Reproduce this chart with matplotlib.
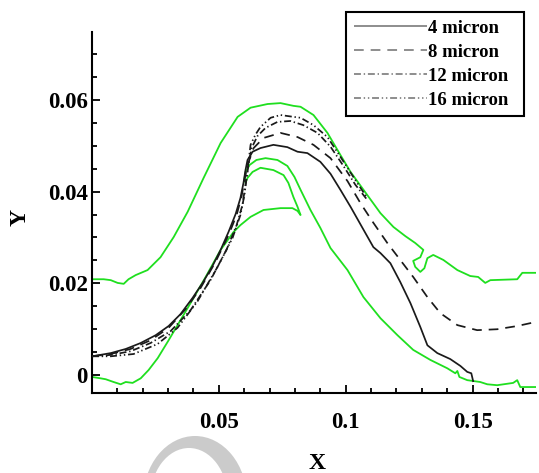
import matplotlib
matplotlib.use('Agg')
import matplotlib.pyplot as plt
from matplotlib.lines import Line2D
from matplotlib.patches import Ellipse
from matplotlib.ticker import MultipleLocator, FixedLocator, FixedFormatter

plt.rcParams['font.family'] = ['Liberation Serif', 'DejaVu Serif']
plt.rcParams['font.weight'] = 'bold'
plt.rcParams['lines.scale_dashes'] = False

# ---------------- data ----------------
series_labels = ['4 micron', '8 micron', '12 micron', '16 micron']

x_ticks = [0.05, 0.1, 0.15]
x_tick_labels = ['0.05', '0.1', '0.15']
y_ticks = [0.0, 0.02, 0.04, 0.06]
y_tick_labels = ['0', '0.02', '0.04', '0.06']

# outer green contour
green_outer_x = [0.0, 0.0046, 0.0074, 0.0101, 0.0125, 0.0144, 0.0172, 0.0219, 0.0270, 0.0322,
                 0.0377, 0.0440, 0.0507, 0.0574, 0.0625, 0.0692, 0.0743, 0.0794, 0.0822, 0.0873,
                 0.0928, 0.0979, 0.1019, 0.1070, 0.1137, 0.1188, 0.1235, 0.1274, 0.1306, 0.1294,
                 0.1266, 0.1274, 0.1294, 0.1310, 0.1322, 0.1345, 0.1385, 0.1440, 0.1491, 0.1522,
                 0.1550, 0.1570, 0.1676, 0.1696, 0.175]
green_outer_y = [0.0209, 0.0209, 0.0207, 0.0201, 0.0199, 0.0209, 0.0218, 0.0229, 0.0257, 0.0301,
                 0.0356, 0.0430, 0.0506, 0.0563, 0.0583, 0.0591, 0.0593, 0.0587, 0.0585, 0.0567,
                 0.0528, 0.0480, 0.0443, 0.0404, 0.0353, 0.0323, 0.0303, 0.0288, 0.0273, 0.0257,
                 0.0249, 0.0236, 0.0225, 0.0233, 0.0255, 0.0262, 0.0251, 0.0229, 0.0216, 0.0214,
                 0.0201, 0.0207, 0.0209, 0.0223, 0.0223]

# inner green contour
green_inner_x = [0.0, 0.0034, 0.0054, 0.0085, 0.0113, 0.0133, 0.0160, 0.0192, 0.0223, 0.0259,
                 0.0302, 0.0349, 0.0400, 0.0448, 0.0507, 0.0558, 0.0585, 0.0625, 0.0676, 0.0743,
                 0.0790, 0.0810, 0.0822, 0.0810, 0.0794, 0.0774, 0.0755, 0.0715, 0.0664, 0.0633,
                 0.0613, 0.0605, 0.0601, 0.0605, 0.0621, 0.0648, 0.0684, 0.0731, 0.0770, 0.0798,
                 0.0822, 0.0861, 0.0900, 0.0940, 0.1007, 0.1070, 0.1137, 0.1204, 0.1266, 0.1334,
                 0.1400, 0.1432, 0.1440, 0.1448, 0.1479, 0.1530, 0.1558, 0.1597, 0.1660, 0.1676,
                 0.1688, 0.175]
green_inner_y = [-0.0004, -0.0007, -0.0009, -0.0015, -0.0020, -0.0015, -0.0017, -0.0007, 0.0011, 0.0037,
                 0.0076, 0.0120, 0.0168, 0.0214, 0.0273, 0.0312, 0.0327, 0.0345, 0.0360, 0.0364,
                 0.0364, 0.0358, 0.0349, 0.0367, 0.0388, 0.0419, 0.0436, 0.0447, 0.0452, 0.0443,
                 0.0430, 0.0419, 0.0428, 0.0443, 0.0458, 0.0469, 0.0473, 0.0469, 0.0456, 0.0432,
                 0.0404, 0.0360, 0.0321, 0.0277, 0.0229, 0.0170, 0.0124, 0.0087, 0.0055, 0.0033,
                 0.0015, 0.0004, 0.0009, -0.0004, -0.0011, -0.0015, -0.0020, -0.0022, -0.0017, -0.0011,
                 -0.0026, -0.0026]

# 4 micron (solid)
m4_x = [0.0, 0.0074, 0.0133, 0.0192, 0.0251, 0.0302, 0.0349, 0.0396, 0.0436, 0.0475,
        0.0507, 0.0538, 0.0566, 0.0585, 0.0597, 0.0605, 0.0613, 0.0633, 0.0664, 0.0715,
        0.0770, 0.0810, 0.0849, 0.0900, 0.0940, 0.0979, 0.1019, 0.1066, 0.1109, 0.1137,
        0.1176, 0.1215, 0.1255, 0.1294, 0.1322, 0.1361, 0.1412, 0.1452, 0.1479, 0.1495,
        0.1503]
m4_y = [0.0041, 0.0048, 0.0057, 0.0070, 0.0087, 0.0107, 0.0133, 0.0168, 0.0201, 0.0238,
        0.0273, 0.0312, 0.0351, 0.0386, 0.0419, 0.0447, 0.0469, 0.0487, 0.0495, 0.0502,
        0.0497, 0.0487, 0.0484, 0.0465, 0.0439, 0.0404, 0.0367, 0.0321, 0.0279, 0.0266,
        0.0244, 0.0203, 0.0157, 0.0105, 0.0065, 0.0048, 0.0035, 0.0020, 0.0007, 0.0004,
        -0.0015]

# 8 micron (dashed)
m8_x = [0.0, 0.0074, 0.0152, 0.0231, 0.0302, 0.0369, 0.0428, 0.0487, 0.0538, 0.0570,
        0.0589, 0.0601, 0.0613, 0.0637, 0.0676, 0.0743, 0.0810, 0.0873, 0.0940, 0.1007,
        0.1058, 0.1109, 0.1164, 0.1215, 0.1266, 0.1322, 0.1373, 0.1440, 0.1518, 0.1597,
        0.1676, 0.175]
m8_y = [0.0041, 0.0046, 0.0057, 0.0076, 0.0103, 0.0144, 0.0190, 0.0247, 0.0305, 0.0349,
        0.0388, 0.0425, 0.0458, 0.0495, 0.0517, 0.0528, 0.0519, 0.0502, 0.0473, 0.0423,
        0.0375, 0.0332, 0.0288, 0.0251, 0.0214, 0.0170, 0.0135, 0.0109, 0.0098, 0.0100,
        0.0107, 0.0116]

# 12 micron (dash-dot)
m12_x = [0.0, 0.0074, 0.0152, 0.0231, 0.0310, 0.0389, 0.0467, 0.0530, 0.0570, 0.0593,
         0.0605, 0.0617, 0.0629, 0.0652, 0.0684, 0.0731, 0.0782, 0.0833, 0.0889, 0.0940,
         0.0991, 0.1038, 0.1085]
m12_y = [0.0041, 0.0044, 0.0052, 0.0070, 0.0096, 0.0142, 0.0207, 0.0273, 0.0327, 0.0371,
         0.0415, 0.0458, 0.0495, 0.0521, 0.0539, 0.0552, 0.0554, 0.0545, 0.0528, 0.0498,
         0.0456, 0.0415, 0.0382]

# 16 micron (dash-dot-dot)
m16_x = [0.0, 0.0074, 0.0164, 0.0259, 0.0337, 0.0416, 0.0495, 0.0554, 0.0585, 0.0601,
         0.0613, 0.0625, 0.0644, 0.0664, 0.0704, 0.0743, 0.0794, 0.0822, 0.0873, 0.0928,
         0.0979, 0.1030, 0.1085]
m16_y = [0.0041, 0.0041, 0.0046, 0.0068, 0.0103, 0.0161, 0.0236, 0.0299, 0.0349, 0.0393,
         0.0447, 0.0502, 0.0524, 0.0541, 0.0561, 0.0567, 0.0563, 0.0561, 0.0545, 0.0519,
         0.0476, 0.0432, 0.0386]

# ---------------- figure ----------------
W, H = 539, 473
fig = plt.figure(figsize=(W / 100, H / 100), dpi=100)

# faint watermark arc at lower left (decoration)
outer = Ellipse((195 / W, (H - 500) / H), 104 / W, 128 / H, transform=fig.transFigure,
                facecolor='#cbcbcb', edgecolor='none', zorder=0)
inner = Ellipse((189 / W, (H - 500) / H), 78 / W, 104 / H, transform=fig.transFigure,
                facecolor='white', edgecolor='none', zorder=0)
fig.patches.extend([outer, inner])

ax = fig.add_axes([92 / W, 1 - 393 / H, (536 - 92) / W, (393 - 32) / H])
ax.patch.set_alpha(0)

green = '#1fdf1f'
black = '#1a1a1a'
styles = [(0, ()), (0, (7, 5)), (0, (5, 2, 1, 2)), (0, (5, 2, 1, 2, 1, 2))]

ax.plot(green_outer_x, green_outer_y, color=green, lw=1.3, zorder=2)
ax.plot(green_inner_x, green_inner_y, color=green, lw=1.3, zorder=2)

for xs, ys, ls in zip([m4_x, m8_x, m12_x, m16_x], [m4_y, m8_y, m12_y, m16_y], styles):
    ax.plot(xs, ys, color=black, lw=1.25, linestyle=ls, zorder=3)

ax.set_xlim(0.0, 0.175)
ax.set_ylim(-0.0039, 0.0748)

for s in ['top', 'right']:
    ax.spines[s].set_visible(False)
for s in ['left', 'bottom']:
    ax.spines[s].set_linewidth(1.5)

ax.xaxis.set_major_locator(FixedLocator(x_ticks))
ax.xaxis.set_major_formatter(FixedFormatter(x_tick_labels))
ax.yaxis.set_major_locator(FixedLocator(y_ticks))
ax.yaxis.set_major_formatter(FixedFormatter(y_tick_labels))
ax.xaxis.set_minor_locator(MultipleLocator(0.01))
ax.yaxis.set_minor_locator(MultipleLocator(0.005))

ax.tick_params(which='both', direction='in', width=1.3, top=False, right=False)
ax.tick_params(which='major', length=6)
ax.tick_params(which='minor', length=3.5)
ax.tick_params(axis='x', which='major', pad=14, labelsize=16.5)
ax.tick_params(axis='y', which='major', pad=3, labelsize=16.5)

fig.text(20 / W, 1 - 217 / H, 'Y', rotation=90, ha='center', va='center',
         fontsize=17, fontweight='bold')
fig.text(317 / W, (H - 469) / H, 'X', ha='center', va='baseline',
         fontsize=17, fontweight='bold')

# legend
legend_color = '#7a7a7a'
handles = [Line2D([], [], color=legend_color, lw=1.2, linestyle=ls) for ls in styles]
leg = ax.legend(handles, series_labels, loc='upper left', mode='expand',
                bbox_to_anchor=(346 / W, 1 - 118 / H, (524 - 346) / W, (118 - 12) / H),
                bbox_transform=fig.transFigure,
                borderaxespad=0, frameon=True, fancybox=False, framealpha=1,
                edgecolor='black', prop={'family': 'Liberation Serif', 'weight': 'bold', 'size': 13.5},
                handlelength=3.9, handletextpad=0.05, labelspacing=0.37, borderpad=0.4)
leg.get_frame().set_linewidth(1.5)

fig.savefig('out.png', dpi=100)
